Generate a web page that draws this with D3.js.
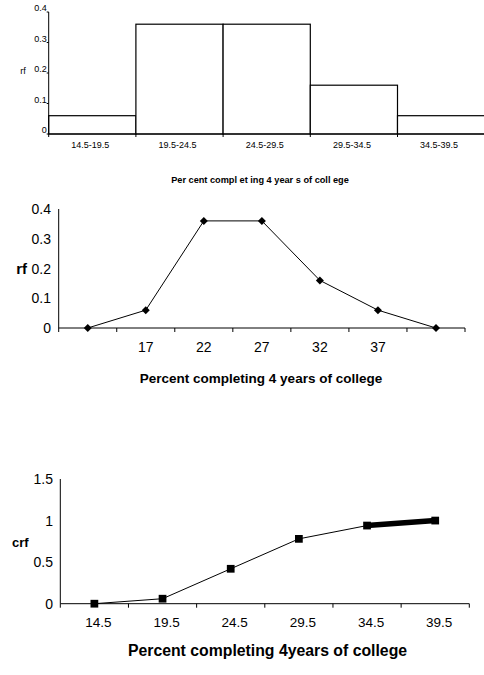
<!DOCTYPE html>
<html><head><meta charset="utf-8">
<script src="https://cdn.jsdelivr.net/npm/d3@7"></script>
<style>body{margin:0;background:#fff}svg{display:block}text{font-family:Arial,"Liberation Sans",sans-serif;fill:#000}</style>
</head><body><svg id="c" width="484" height="675"></svg>
<script>
// Chart 1: histogram
const binLabels = ["14.5-19.5","19.5-24.5","24.5-29.5","29.5-34.5","34.5-39.5"];
const rfValues = [0.06,0.36,0.36,0.16,0.06];
const rfTicks1 = [0,0.1,0.2,0.3,0.4];
// Chart 2: frequency polygon
const midLabels = ["","17","22","27","32","37",""];
const polyValues = [0,0.06,0.36,0.36,0.16,0.06,0];
const rfTicks2 = [0,0.1,0.2,0.3,0.4];
// Chart 3: ogive
const boundLabels = ["14.5","19.5","24.5","29.5","34.5","39.5"];
const crfValues = [0,0.06,0.42,0.78,0.94,1.0];
const crfTicks = [0,0.5,1,1.5];

const svg = d3.select("#c");

// ---------- Chart 1 ----------
{
  const g = svg.append("g");
  const x = d3.scaleBand().domain(binLabels).range([48.7,484.7]).padding(0);
  const y = d3.scaleLinear().domain([0,0.4]).range([134,12]);
  g.selectAll("rect.bar").data(binLabels).join("rect")
    .attr("x",d=>x(d)).attr("width",x.bandwidth())
    .attr("y",(d,i)=>y(rfValues[i])).attr("height",(d,i)=>y(0)-y(rfValues[i]))
    .attr("fill","#fff").attr("stroke","#000").attr("stroke-width",1.2);
  g.append("line").attr("x1",x.range()[0]).attr("x2",x.range()[0]).attr("y1",y(0)).attr("y2",y(0.4)).attr("stroke","#000");
  g.append("line").attr("x1",x.range()[0]).attr("x2",x.range()[1]).attr("y1",y(0)).attr("y2",y(0)).attr("stroke","#000");
  g.selectAll("line.yt").data(rfTicks1).join("line").attr("x1",x.range()[0]-2).attr("x2",x.range()[0]).attr("y1",d=>y(d)).attr("y2",d=>y(d)).attr("stroke","#000");
  g.selectAll("text.yl").data(rfTicks1).join("text").attr("x",x.range()[0]-2).attr("y",d=>y(d)-1)
    .attr("text-anchor","end").attr("font-size",9).text(d=>d===0?"0":d3.format(".1f")(d));
  const bounds = binLabels.map(d=>x(d)).concat([x.range()[1]]);
  g.selectAll("line.xt").data(bounds).join("line").attr("x1",d=>d).attr("x2",d=>d).attr("y1",y(0)).attr("y2",y(0)+3).attr("stroke","#000");
  g.selectAll("text.xl").data(binLabels).join("text").attr("x",d=>x(d)+x.bandwidth()/2-2).attr("y",148)
    .attr("text-anchor","middle").attr("font-size",9).text(d=>d);
  g.append("text").attr("x",23).attr("y",74).attr("text-anchor","middle").attr("font-size",9).text("rf");
  g.append("text").attr("x",260).attr("y",183).attr("text-anchor","middle").attr("font-size",9.2).attr("font-weight","bold").text("Per cent compl et ing 4 year s of coll ege");
}

// ---------- Chart 2 ----------
{
  const g = svg.append("g");
  const idx = d3.range(midLabels.length);
  const x = d3.scaleBand().domain(idx).range([58.7,465]).padding(0);
  const y = d3.scaleLinear().domain([0,0.4]).range([328,209]);
  g.append("line").attr("x1",x.range()[0]).attr("x2",x.range()[0]).attr("y1",y(0)).attr("y2",y(0.4)).attr("stroke","#000");
  g.append("line").attr("x1",x.range()[0]).attr("x2",x.range()[1]).attr("y1",y(0)).attr("y2",y(0)).attr("stroke","#000");
  const bounds = idx.map(d=>x(d)).concat([x.range()[1]]);
  g.selectAll("line.xt").data(bounds).join("line").attr("x1",d=>d).attr("x2",d=>d).attr("y1",y(0)).attr("y2",y(0)+4).attr("stroke","#000");
  g.selectAll("text.yl").data(rfTicks2).join("text").attr("x",51).attr("y",d=>y(d)).attr("dy","0.36em")
    .attr("text-anchor","end").attr("font-size",14).text(d=>d===0?"0":d3.format(".1f")(d));
  g.selectAll("text.xl").data(idx).join("text").attr("x",d=>x(d)+x.bandwidth()/2).attr("y",347).attr("dy","0.36em")
    .attr("text-anchor","middle").attr("font-size",14).text(d=>midLabels[d]);
  const line = d3.line().x((d,i)=>x(i)+x.bandwidth()/2).y(d=>y(d));
  g.append("path").attr("d",line(polyValues)).attr("fill","none").attr("stroke","#000").attr("stroke-width",1);
  const dia = d3.symbol(d3.symbolSquare).size(32);
  g.selectAll("path.m").data(polyValues).join("path").attr("d",dia)
    .attr("transform",(d,i)=>`translate(${x(i)+x.bandwidth()/2},${y(d)}) rotate(45)`).attr("fill","#000");
  g.append("text").attr("x",27).attr("y",269).attr("dy","0.36em").attr("text-anchor","end").attr("font-size",15).attr("font-weight","bold").text("rf");
  g.append("text").attr("x",261).attr("y",378).attr("dy","0.36em").attr("text-anchor","middle").attr("font-size",13.5).attr("font-weight","bold").text("Percent completing 4 years of college");
}

// ---------- Chart 3 ----------
{
  const g = svg.append("g");
  const x = d3.scaleBand().domain(boundLabels).range([60.3,469.3]).padding(0);
  const y = d3.scaleLinear().domain([0,1.5]).range([603.7,479]);
  g.append("line").attr("x1",x.range()[0]).attr("x2",x.range()[0]).attr("y1",y(0)).attr("y2",y(1.5)).attr("stroke","#000");
  g.append("line").attr("x1",x.range()[0]).attr("x2",x.range()[1]).attr("y1",y(0)).attr("y2",y(0)).attr("stroke","#000");
  const bounds = boundLabels.map(d=>x(d)).concat([x.range()[1]]);
  g.selectAll("line.xt").data(bounds).join("line").attr("x1",d=>d).attr("x2",d=>d).attr("y1",y(0)).attr("y2",y(0)+4).attr("stroke","#000");
  g.selectAll("text.yl").data(crfTicks).join("text").attr("x",53).attr("y",d=>y(d)).attr("dy","0.36em")
    .attr("text-anchor","end").attr("font-size",14).text(d=>String(d));
  g.selectAll("text.xl").data(boundLabels).join("text").attr("x",d=>x(d)+x.bandwidth()/2+4).attr("y",622).attr("dy","0.36em")
    .attr("text-anchor","middle").attr("font-size",13.5).text(d=>d);
  const cx = (d,i)=>x(boundLabels[i])+x.bandwidth()/2;
  const line = d3.line().x(cx).y(d=>y(d));
  const n = crfValues.length;
  g.append("path").attr("d",line(crfValues.slice(0,n-1))).attr("fill","none").attr("stroke","#000").attr("stroke-width",1);
  g.append("path").attr("d",d3.line().x((d,i)=>cx(d,n-2+i)).y(d=>y(d))(crfValues.slice(n-2))).attr("fill","none").attr("stroke","#000").attr("stroke-width",5.5);
  const sq = d3.symbol(d3.symbolSquare).size(60);
  g.selectAll("path.m").data(crfValues).join("path").attr("d",sq)
    .attr("transform",(d,i)=>`translate(${cx(d,i)},${y(d)})`).attr("fill","#000");
  g.append("text").attr("x",12).attr("y",542).attr("dy","0.36em").attr("text-anchor","start").attr("font-size",13).attr("font-weight","bold").text("crf");
  g.append("text").attr("x",267.5).attr("y",650).attr("dy","0.36em").attr("text-anchor","middle").attr("font-size",15.8).attr("font-weight","bold").text("Percent completing 4years of college");
}
</script></body></html>
